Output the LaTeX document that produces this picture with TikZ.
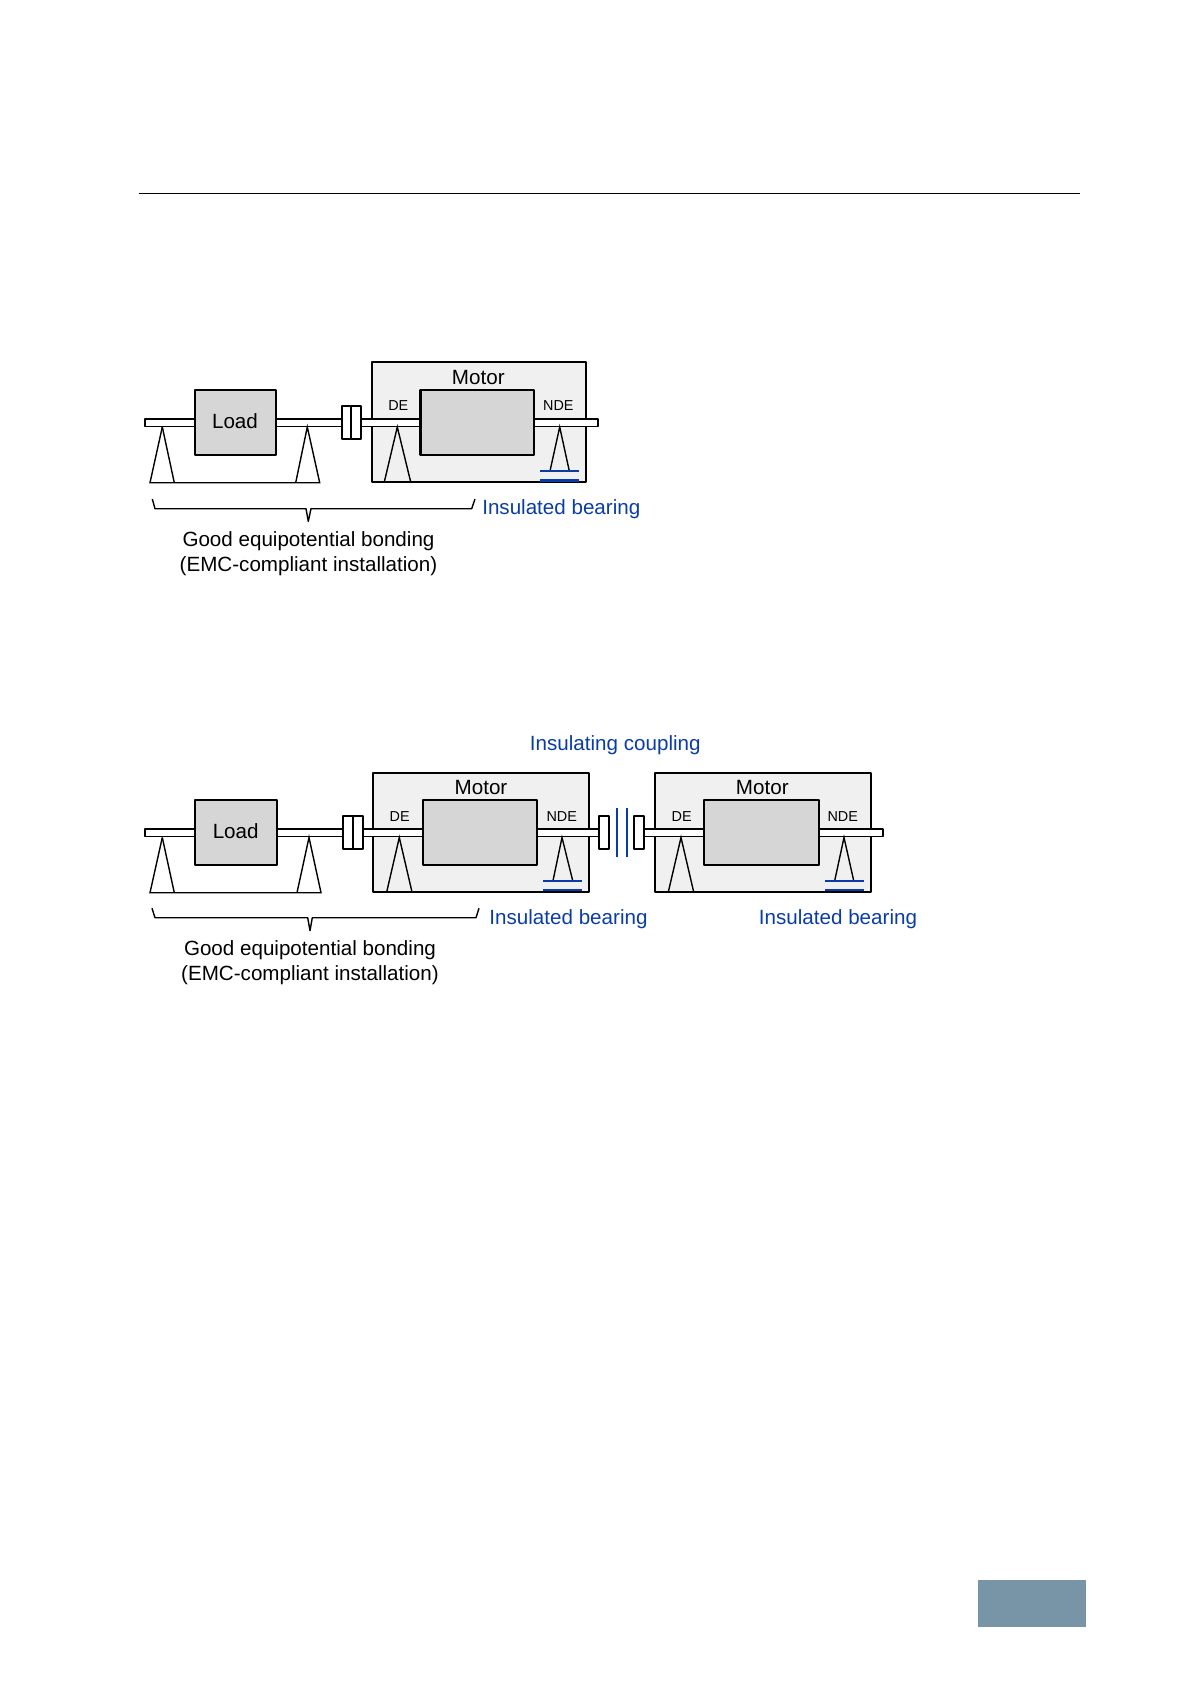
\documentclass[tikz,border=0pt]{standalone}
\usepackage{fontspec}
\setmainfont{Liberation Sans}
\definecolor{insblue}{HTML}{0A3CA8}
\definecolor{motorbg}{HTML}{F0F0F0}
\definecolor{corebg}{HTML}{D6D6D6}
\definecolor{tabbg}{HTML}{7895A8}
\tikzset{
  txt/.style={inner sep=0pt,anchor=mid,font=\fontsize{10.3}{12}\selectfont},
  smalltxt/.style={inner sep=0pt,anchor=mid,font=\fontsize{7.2}{9}\selectfont},
  bluetxt/.style={txt,text=insblue},
  thin line/.style={draw=black,line width=0.7pt,line join=miter},
  heavy/.style={draw=black,line width=1.2pt,line join=round},
  motorbox/.style={heavy,line width=0.9pt,fill=motorbg},
  corebox/.style={heavy,fill=corebg},
  shaftbar/.style={heavy,line width=0.85pt,fill=white},
  couplingbar/.style={heavy,line width=1.1pt,fill=white},
  insline/.style={draw=insblue,line width=0.9pt},
  insbar/.style={draw=insblue,line width=0.9pt},
}
\begin{document}
\begin{tikzpicture}[x=0.5pt,y=-0.5pt]
\useasboundingbox (0,0) rectangle (1190,1684);
% header rule and tab
\draw[black,line width=0.4pt] (138.6,193.6) -- (1079.6,193.6);
\fill[tabbg] (978,1580) rectangle (1086,1627);

% ---------- upper diagram ----------
\draw[motorbox] (372,362) rectangle (586,482);
\draw[shaftbar] (145,419) rectangle (598,426.5);
\draw[corebox] (195,390) rectangle (276,455);
\draw[corebox] (420.5,390) rectangle (534,455);
\draw[couplingbar] (342,406) rectangle (351,439);
\draw[couplingbar] (351,406) rectangle (360.7,439);
\draw[thin line] (162.3,427) -- (150,482.7) -- (319.7,482.7) -- (307.3,427) -- (295.7,482.7);
\draw[thin line] (162.3,427) -- (174.3,482.7);
\draw[thin line] (384.3,482) -- (397.3,427) -- (410.7,482);
\draw[thin line] (550,471) -- (559.7,427) -- (569.3,471);
\draw[insline,line width=1.2pt] (540,471) -- (578.7,471);
\draw[insline,line width=1.4pt] (540,480.7) -- (578.7,480.7);
\draw[thin line,line join=round] (152.3,499) -- (155,508.7) -- (306,508.7) -- (308.3,521.3) -- (311,508.7) -- (471.7,508.7) -- (475,499);
\node[txt] (loadA) at (235,423) {Load};
\node[txt] (motorA) at (478.3,379) {Motor};
\node[smalltxt] (deA) at (398.3,405) {DE};
\node[smalltxt] (ndeA) at (558.3,405) {NDE};
\node[bluetxt] (insA) at (561.3,509) {Insulated bearing};
\node[txt] (goodA) at (308.5,541) {Good equipotential bonding};
\node[txt] (emcA) at (308.5,566) {(EMC-compliant installation)};

% ---------- lower diagram ----------
\draw[motorbox] (373,773) rectangle (589,892);
\draw[motorbox] (655,773) rectangle (871,892);
\draw[shaftbar] (145,829) rectangle (599,836.5);
\draw[shaftbar] (644,829) rectangle (883.3,836.5);
\draw[corebox] (195,800) rectangle (277,865);
\draw[corebox] (423,800) rectangle (536.7,865);
\draw[corebox] (704,800) rectangle (818.7,865);
\draw[couplingbar] (343.3,816) rectangle (352.7,849);
\draw[couplingbar] (352.7,816) rectangle (363,849);
\draw[couplingbar] (599,816) rectangle (609.3,849);
\draw[couplingbar] (634,816) rectangle (644.3,849);
\draw[insbar] (616.8,808) -- (616.8,857);
\draw[insbar] (627,808) -- (627,857);
\draw[thin line] (162.3,837.5) -- (150,892.7) -- (321,892.7) -- (309,837.5) -- (297,892.7);
\draw[thin line] (162.3,837.5) -- (174.3,892.7);
\draw[thin line] (386.7,892) -- (399.3,837.5) -- (412,892);
\draw[thin line] (553,880.7) -- (562,837.5) -- (572.7,880.7);
\draw[insline] (543.3,880.7) -- (582,880.7);
\draw[insline,line width=1.4pt] (543.3,890) -- (582,890);
\draw[thin line] (668.3,892) -- (681,837.5) -- (693.7,892);
\draw[thin line] (834.7,880.7) -- (844,837.5) -- (853.7,880.7);
\draw[insline] (825,880.7) -- (863.7,880.7);
\draw[insline,line width=1.4pt] (825,890) -- (863.7,890);
\draw[thin line,line join=round] (152,908.3) -- (155,917.7) -- (307.7,917.7) -- (310,930.7) -- (312.3,917.7) -- (476,917.7) -- (479,908.3);
\node[txt] (loadB) at (235.7,833) {Load};
\node[txt] (motorB) at (481,789) {Motor};
\node[txt] (motorC) at (762.3,789) {Motor};
\node[smalltxt] (deB) at (399.7,816) {DE};
\node[smalltxt] (ndeB) at (561.7,816) {NDE};
\node[smalltxt] (deC) at (681.7,816) {DE};
\node[smalltxt] (ndeC) at (842.7,816) {NDE};
\node[bluetxt] (couplingB) at (615.3,745) {Insulating coupling};
\node[bluetxt] (insB) at (568.5,919) {Insulated bearing};
\node[bluetxt] (insC) at (838,919) {Insulated bearing};
\node[txt] (goodB) at (310,950.5) {Good equipotential bonding};
\node[txt] (emcB) at (310,975.5) {(EMC-compliant installation)};
\end{tikzpicture}
\end{document}
